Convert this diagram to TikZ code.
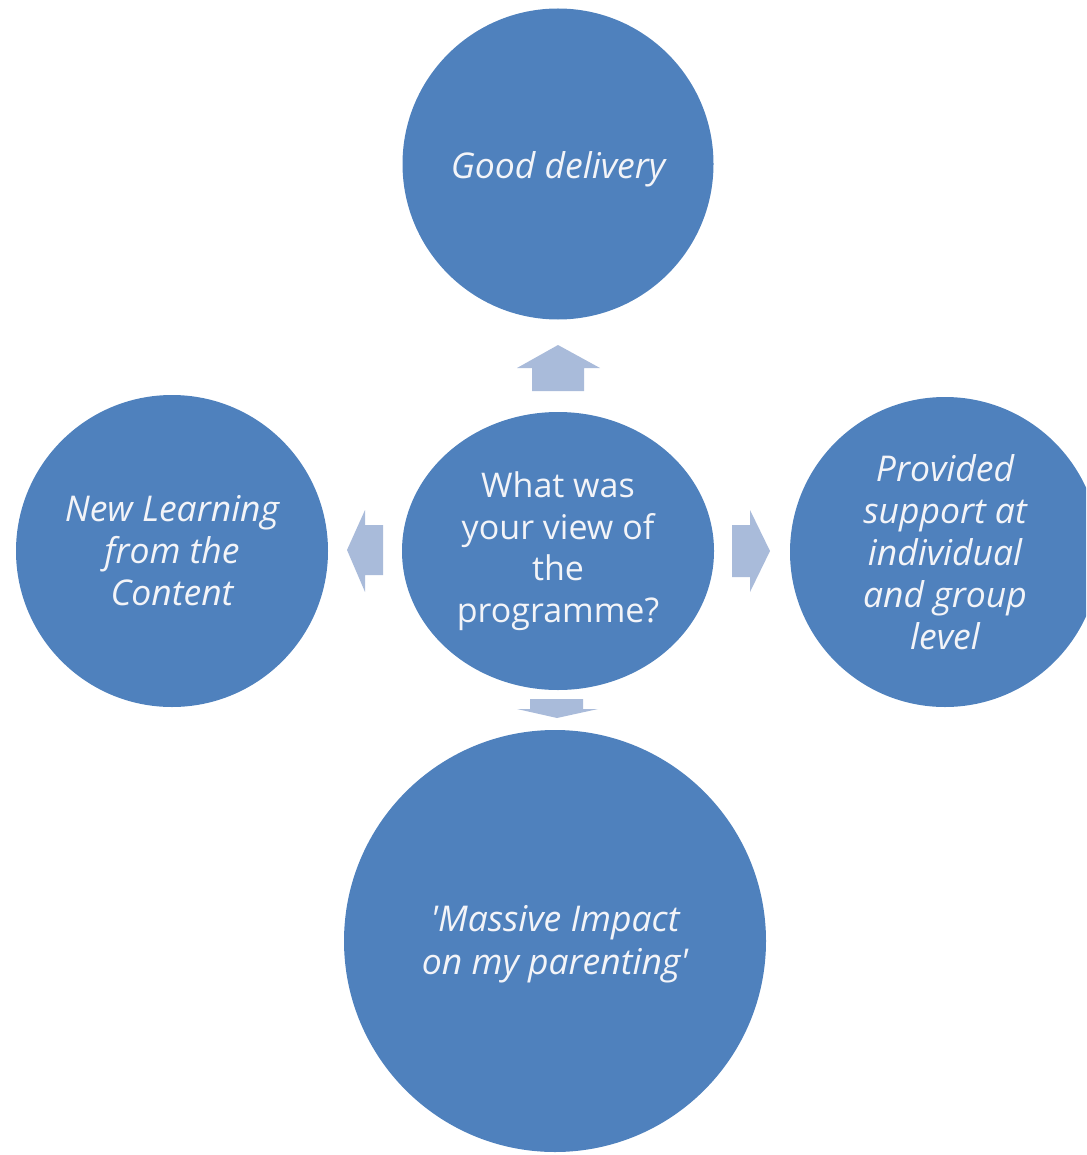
\documentclass[tikz,border=0pt]{standalone}
\usepackage{fontspec}
\setmainfont{Open Sans}
\newfontfamily\plainquotes{Open Sans}
\usetikzlibrary{shapes.geometric}
\definecolor{bubble}{HTML}{4F81BD}
\definecolor{arrowfill}{HTML}{A9BBDA}
\definecolor{txt}{HTML}{F3F4F8}
\tikzset{
  bubble/.style={circle, fill=bubble, inner sep=0pt, outer sep=0pt, text=txt, align=center,
    font=\fontsize{35.5}{42}\selectfont\itshape},
  hub/.style={ellipse, fill=bubble, inner sep=0pt, outer sep=0pt, text=txt, align=center,
    minimum width=312pt, minimum height=278pt, font=\fontsize{34}{41.5}\selectfont},
  blockarrow/.style={fill=arrowfill}
}
\begin{document}
\begin{tikzpicture}[x=1pt,y=-1pt]
\useasboundingbox (0,0) rectangle (1086,1155);
\clip (0,0) rectangle (1086,1155);
% arrows
\coordinate (upT) at (558,345);
\coordinate (dnT) at (557,718);
\coordinate (lfT) at (347,550);
\coordinate (rtT) at (770,551);
\fill[blockarrow] (532,391) -- (532,368) -- (517,368) -- (upT) -- (600,368) -- (584,368) -- (584,391) -- cycle;
\fill[blockarrow] (530,699) -- (530,709) -- (517,709) -- (dnT) -- (598,709) -- (583,709) -- (583,699) -- cycle;
\fill[blockarrow] (383,525) -- (365,525) -- (365,510) -- (lfT) -- (365,592) -- (365,575) -- (383,575) -- cycle;
\fill[blockarrow] (732,525) -- (750,525) -- (750,510) -- (rtT) -- (750,592) -- (750,577) -- (732,577) -- cycle;
% bubbles
\node[bubble, minimum size=311pt] (top) at (558,164) {\raisebox{-5pt}[\height][\depth]{Good delivery}};
\node[bubble, minimum size=312pt] (left) at (172,551) {New Learning\\from the\\Content};
\node[bubble, minimum size=310pt] (right) at (945,552) {Provided\\support at\\individual\\and group\\level};
\node[bubble, minimum size=422pt, font=\fontsize{35.5}{42}\selectfont\plainquotes\itshape] (bottom) at (555,941) {\raisebox{-4pt}[\height][\depth]{\begin{tabular}{@{}c@{}}'Massive Impact\\[1pt]on my parenting'\end{tabular}}};
\node[hub] (hub) at (558,551) {What was\\your view of\\the\\programme?};
\end{tikzpicture}
\end{document}
